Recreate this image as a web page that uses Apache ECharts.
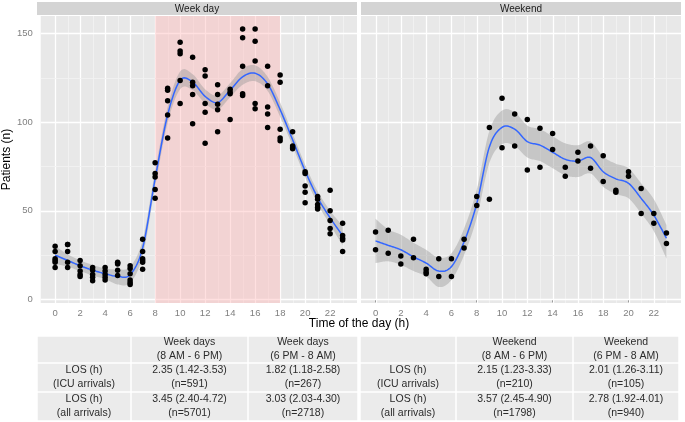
<!DOCTYPE html>
<html><head><meta charset="utf-8">
<script src="https://cdn.jsdelivr.net/npm/echarts@6/dist/echarts.min.js"></script>
<style>html,body{margin:0;padding:0;background:#fff}#c{width:685px;height:422px}</style>
</head><body><div id="c"></div>
<script>
// ---------------- data ----------------
const hours = [0,1,2,3,4,5,6,7,8,9,10,11,12,13,14,15,16,17,18,19,20,21,22,23];
const xTickLabels = [0,2,4,6,8,10,12,14,16,18,20,22];
const xMinorGrid = [1,3,5,7,9,11,13,15,17,19,21,23];
const yTickLabels = [0,50,100,150];
const yMinorGrid = [25,75,125];
const panelTitles = ['Week day', 'Weekend'];
const dayShade = [8, 18];
const xTitle = 'Time of the day (h)';
const yTitle = 'Patients (n)';

// observed patients per hour (one list per hour)
const weekdayPoints = [
  [30,27,23,22,21,18],[31,31,27,21,18],[22,19,16,14,13],[18,16.5,14,12.5,10.5],
  [18,16,14,12.5,11],[21,20.5,20,16.5,13.5],[19,17.5,14.5,11,9.5,8.5],[34,27,23,22,21,17],
  [77,71,69,62,57],[119,118,112,104,91],[145,140,138.5,123.5,110.5],[136.5,122.5,120.5,115.5,99],
  [129.5,126,110.5,105.5,88],[121,115.5,110,107,94.5],[118.5,117,116,101.5],[152.5,147.5,131.5,116,115],
  [152.5,145.5,134.5,110.5,107.5],[131.5,120.5,108.5,104.5,97],[126.5,122.5,96,91,89.5],[94.5,86.5,85.5,85],
  [72,71,64,60.5,54.5],[58,56.5,53.5,52,51],[61.5,50,44.5,40,37],[43,36,34.5,33.5,27]
];
const weekendPoints = [
  [38,28],[39,26],[24.5,20],[34,23.5],[17,15.5,14.5],[23,13],[23,13],[34,29],
  [58,53],[97,56.5],[113.5,85.5],[104.5,86.5],[101.5,73],[96.5,74.5],[93.5,84.5],[74.5,69.5],
  [83,78],[86.5,74],[81,66.5],[61.5,60.5],[72,69.5],[62.5,48.5],[48.5,43],[37.5,31.5]
];

// smoothed fit and its confidence band
const weekdaySmooth = [25,22,19,16.5,14.5,13,14,29,68,104,123.5,122.5,114.5,111,118,125.5,127.5,121.5,107,90,72.5,57.5,46,36];
const weekdayLow    = [20,18.5,16,13.5,11.5,8.5,9.5,24.5,63.5,99.5,118.5,118,110.5,107,114,121,123,117.5,103,86.5,69,54,42,30.5];
const weekdayHigh   = [30,25.5,22,19.5,17.5,17,18.5,33.5,72.5,108.5,128.5,127,118.5,115,122,130,132,125.5,111,93.5,76,61,50,41.5];
const weekendSmooth = [33,30.5,28,24,20.5,16,18.5,32.5,54,86,97,96,89,87,83,79,78,80,72,68,65.5,57,47.5,34.5];
const weekendLow    = [20.5,21.5,19.5,16,13,7,11,25,46,77,87.5,86.5,80,78,74,70,69,71,63.5,59.5,57,48.5,38.5,23];
const weekendHigh   = [45.5,39.5,36.5,32,28,23.5,26,40,62,95,106.5,105.5,98,96,92,88,87,89,80.5,76.5,74,65.5,56.5,42];

// table below the plot
const tableLeft = [
  ['', 'Week days\n(8 AM - 6 PM)', 'Week days\n(6 PM - 8 AM)'],
  ['LOS (h)\n(ICU arrivals)', '2.35 (1.42-3.53)\n(n=591)', '1.82 (1.18-2.58)\n(n=267)'],
  ['LOS (h)\n(all arrivals)', '3.45 (2.40-4.72)\n(n=5701)', '3.03 (2.03-4.30)\n(n=2718)']
];
const tableRight = [
  ['', 'Weekend\n(8 AM - 6 PM)', 'Weekend\n(6 PM - 8 AM)'],
  ['LOS (h)\n(ICU arrivals)', '2.15 (1.23-3.33)\n(n=210)', '2.01 (1.26-3.11)\n(n=105)'],
  ['LOS (h)\n(all arrivals)', '3.57 (2.45-4.90)\n(n=1798)', '2.78 (1.92-4.01)\n(n=940)']
];

// ---------------- layout ----------------
const FONT = '"Liberation Sans", Arial, sans-serif';
const PANEL_LEFT = [37, 361];
const PANEL_W = 320, PANEL_TOP = 16, PANEL_H = 287;
const X_MIN = -1.15, X_MAX = 24.15, Y_MIN = -2, Y_MAX = 159.8;
const TABLE_COLS = [[37,131,248,358],[360,456,573,679]];
const TABLE_ROWS = [336,363,392,421];

const chart = echarts.init(document.getElementById('c'), null, {renderer:'canvas', width:685, height:422});

const grids = PANEL_LEFT.map(l => ({left:l, top:PANEL_TOP, width:PANEL_W, height:PANEL_H,
  show:true, backgroundColor:'#E8E8E8', borderWidth:0, containLabel:false}));

const xAxes = [0,1].map(gi => ({
  type:'value', gridIndex:gi, min:X_MIN, max:X_MAX,
  axisLine:{show:false},
  axisTick:{show:true, length:3, lineStyle:{color:'#8A8A8A', width:1}, customValues:xTickLabels},
  axisLabel:{show:true, customValues:xTickLabels, color:'#7F7F7F', fontSize:9.5, margin:5, fontFamily:FONT},
  splitLine:{show:false}, minorSplitLine:{show:false}
}));
const yAxes = [
  {type:'value', gridIndex:0, min:Y_MIN, max:Y_MAX,
   axisLine:{show:false},
   axisTick:{show:true, length:4, lineStyle:{color:'#8A8A8A', width:1}, customValues:yTickLabels},
   axisLabel:{show:true, customValues:yTickLabels, color:'#7F7F7F', fontSize:9.5, margin:8, fontFamily:FONT},
   splitLine:{show:false},
   name:yTitle, nameLocation:'middle', nameGap:21,
   nameTextStyle:{color:'#000', fontSize:12, fontFamily:FONT}},
  {type:'value', gridIndex:1, min:Y_MIN, max:Y_MAX, show:false, splitLine:{show:false}}
];

function gridLineSeries(gi) {
  const items = [];
  xTickLabels.forEach(v => items.push([v, 0, 1, 0]));
  xMinorGrid.forEach(v => items.push([v, 0, 0, 0]));
  yTickLabels.forEach(v => items.push([0, v, 1, 1]));
  yMinorGrid.forEach(v => items.push([0, v, 0, 1]));
  return {
    type:'custom', xAxisIndex:gi, yAxisIndex:gi, z:1, silent:true, animation:false,
    data:items,
    renderItem:(params, api) => {
      const cs = params.coordSys;
      const major = api.value(2) === 1;
      const style = {stroke: major ? '#FFFFFF' : '#F3F3F3', lineWidth: major ? 1.3 : 0.8};
      if (api.value(3) === 0) {
        const x = Math.round(api.coord([api.value(0), 0])[0]) + 0.5;
        return {type:'line', shape:{x1:x, y1:cs.y, x2:x, y2:cs.y + cs.height}, style};
      } else {
        const y = Math.round(api.coord([0, api.value(1)])[1]) + 0.5;
        return {type:'line', shape:{x1:cs.x, y1:y, x2:cs.x + cs.width, y2:y}, style};
      }
    }
  };
}

function shadeSeries(gi) {
  return {
    type:'custom', xAxisIndex:gi, yAxisIndex:gi, z:2, silent:true, animation:false,
    data:[[dayShade[0], dayShade[1]]],
    renderItem:(params, api) => {
      const cs = params.coordSys;
      const x1 = api.coord([api.value(0), 0])[0];
      const x2 = api.coord([api.value(1), 0])[0];
      return {type:'rect', shape:{x:x1, y:cs.y, width:x2 - x1, height:cs.height},
              style:{fill:'rgba(255,180,180,0.42)'}};
    }
  };
}

// Catmull-Rom rendering of a pixel path (for the smooth curves)
function spline(P, n) {
  const out = [];
  const f = (a,b,c,d,t) => 0.5*((2*b) + (-a+c)*t + (2*a-5*b+4*c-d)*t*t + (-a+3*b-3*c+d)*t*t*t);
  for (let i = 0; i < P.length - 1; i++) {
    const p0 = P[Math.max(i-1,0)], p1 = P[i], p2 = P[i+1], p3 = P[Math.min(i+2,P.length-1)];
    for (let k = 0; k < n; k++) {
      const t = k/n;
      out.push([f(p0[0],p1[0],p2[0],p3[0],t), f(p0[1],p1[1],p2[1],p3[1],t)]);
    }
  }
  out.push(P[P.length-1]);
  return out;
}

function fitSeries(gi, sm, lo, hi) {
  return {
    type:'custom', xAxisIndex:gi, yAxisIndex:gi, z:3, silent:true, animation:false,
    data:[[hours[0], sm[0]]],
    renderItem:(params, api) => {
      const U = spline(hours.map((h,i) => api.coord([h, hi[i]])), 12);
      const D = spline(hours.map((h,i) => api.coord([h, lo[i]])), 12);
      const F = spline(hours.map((h,i) => api.coord([h, sm[i]])), 12);
      return {type:'group', children:[
        {type:'polygon', shape:{points:U.concat(D.reverse())}, style:{fill:'rgba(150,150,150,0.42)'}},
        {type:'polyline', shape:{points:F}, style:{stroke:'#3366FF', lineWidth:1.5, fill:null}}
      ]};
    }
  };
}

function pointSeries(gi, pts) {
  return {type:'scatter', xAxisIndex:gi, yAxisIndex:gi, z:5, silent:true, animation:false,
    data:pts.flatMap((list,i) => list.map(v => [hours[i], v])),
    symbol:'circle', symbolSize:5.5, itemStyle:{color:'#000', opacity:1}};
}

const series = [
  gridLineSeries(0), gridLineSeries(1), shadeSeries(0),
  fitSeries(0, weekdaySmooth, weekdayLow, weekdayHigh),
  fitSeries(1, weekendSmooth, weekendLow, weekendHigh),
  pointSeries(0, weekdayPoints), pointSeries(1, weekendPoints)
];

// graphics: facet strips, x title, table
const graphic = [];
PANEL_LEFT.forEach((l, i) => {
  graphic.push({type:'rect', shape:{x:l, y:2, width:PANEL_W, height:13}, style:{fill:'#D4D4D4'}, silent:true});
  graphic.push({type:'text', x:l + PANEL_W/2, y:9, silent:true,
    style:{text:panelTitles[i], align:'center', verticalAlign:'middle', fill:'#1A1A1A', fontSize:10, fontFamily:FONT}});
});
graphic.push({type:'text', x:(PANEL_LEFT[0] + PANEL_LEFT[1] + PANEL_W)/2, y:324, silent:true,
  style:{text:xTitle, align:'center', verticalAlign:'middle', fill:'#000', fontSize:12, fontFamily:FONT}});

[tableLeft, tableRight].forEach((tbl, ti) => {
  const cols = TABLE_COLS[ti];
  tbl.forEach((row, r) => {
    row.forEach((cell, c) => {
      const x0 = cols[c], x1 = cols[c+1], y0 = TABLE_ROWS[r], y1 = TABLE_ROWS[r+1];
      graphic.push({type:'rect', silent:true,
        shape:{x:x0 + 0.75, y:y0 + 0.75, width:x1 - x0 - 1.5, height:y1 - y0 - 1.5},
        style:{fill:'#EBEBEB'}});
      if (cell) {
        graphic.push({type:'text', x:(x0 + x1)/2, y:(y0 + y1)/2, silent:true,
          style:{text:cell, align:'center', verticalAlign:'middle', fill:'#2B2B2B',
                 fontSize:10.5, lineHeight:14, fontFamily:FONT}});
      }
    });
  });
});

chart.setOption({
  backgroundColor:'#FFFFFF',
  animation:false,
  grid:grids, xAxis:xAxes, yAxis:yAxes,
  series:series,
  graphic:graphic
});
</script></body></html>
